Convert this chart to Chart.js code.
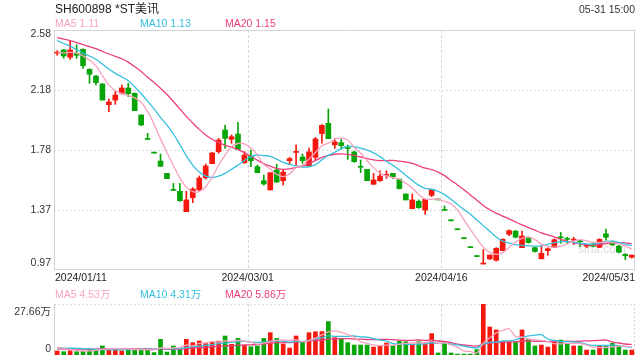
<!DOCTYPE html>
<html>
<head>
<meta charset="utf-8">
<script src="https://cdn.jsdelivr.net/npm/chart.js@4.4.1/dist/chart.umd.min.js"></script>
<style>
html, body { margin: 0; padding: 0; background: #fff; }
#wrap { position: relative; width: 640px; height: 360px; }
canvas { position: absolute; left: 0; }
#kline { top: 0; }
#vol { top: 280px; }
</style>
</head>
<body>
<div id="wrap">
  <canvas id="kline" width="640" height="300"></canvas>
  <canvas id="vol" width="640" height="80"></canvas>
</div>
<script>
const title = 'SH600898 *ST美讯';
const stamp = '05-31 15:00';
const dateLabels = ['2024/01/11', '2024/03/01', '2024/04/16', '2024/05/31'];
const priceTicks = ['0.97', '1.37', '1.78', '2.18', '2.58'];
const volTicks = ['0', '27.66万'];
const maLegend = ['MA5 1.11', 'MA10 1.13', 'MA20 1.15'];
const volLegend = ['MA5 4.53万', 'MA10 4.31万', 'MA20 5.86万'];

// daily prices, 2024/01/11 .. 2024/05/31
const opens = [2.425,2.446,2.397,2.424,2.45,2.316,2.271,2.218,2.079,2.11,
  2.155,2.191,2.155,2.01,1.846,1.754,1.701,1.618,1.504,1.498,
  1.361,1.455,1.507,1.589,1.683,1.764,1.909,1.847,1.882,1.69,
  1.735,1.663,1.569,1.507,1.641,1.569,1.703,1.759,1.728,1.668,
  1.726,1.885,1.954,1.809,1.824,1.789,1.762,1.662,1.645,1.545,
  1.569,1.605,1.618,1.58,1.48,1.381,1.431,1.372,1.471,1.44,
  1.37,1.30,1.24,1.18,1.12,1.06,1.01,1.045,1.035,1.10,
  1.21,1.231,1.12,1.189,1.12,1.045,1.10,1.122,1.19,1.18,
  1.17,1.165,1.13,1.145,1.122,1.213,1.16,1.13,1.075,1.055];
const highs = [2.442,2.45,2.508,2.48,2.453,2.32,2.276,2.22,2.119,2.171,
  2.211,2.222,2.158,2.01,1.887,1.754,1.748,1.618,1.551,1.551,
  1.498,1.522,1.601,1.681,1.759,1.853,1.943,1.876,1.961,1.764,
  1.775,1.674,1.607,1.623,1.679,1.641,1.726,1.809,1.748,1.788,
  1.86,1.945,2.05,1.851,1.849,1.809,1.768,1.708,1.645,1.618,
  1.636,1.636,1.618,1.58,1.48,1.48,1.44,1.447,1.513,1.44,
  1.40,1.30,1.24,1.18,1.12,1.06,1.107,1.072,1.12,1.18,
  1.24,1.235,1.231,1.192,1.122,1.131,1.118,1.18,1.222,1.19,
  1.19,1.175,1.14,1.148,1.18,1.245,1.165,1.135,1.08,1.07];
const lows = [2.41,2.39,2.383,2.39,2.323,2.222,2.211,2.11,2.032,2.081,
  2.15,2.133,2.039,1.938,1.846,1.754,1.663,1.583,1.504,1.43,
  1.361,1.422,1.503,1.58,1.683,1.753,1.786,1.82,1.779,1.685,
  1.663,1.623,1.54,1.507,1.558,1.54,1.677,1.674,1.686,1.668,
  1.708,1.82,1.851,1.786,1.78,1.712,1.692,1.623,1.569,1.545,
  1.565,1.585,1.583,1.514,1.44,1.381,1.384,1.343,1.462,1.44,
  1.37,1.30,1.24,1.18,1.12,1.06,1.01,1.04,1.03,1.10,
  1.20,1.185,1.12,1.15,1.09,1.045,1.07,1.12,1.149,1.15,
  1.14,1.126,1.12,1.125,1.12,1.17,1.135,1.085,1.04,1.05];
const closes = [2.43,2.406,2.446,2.41,2.34,2.283,2.227,2.11,2.097,2.144,
  2.191,2.153,2.039,1.943,1.846,1.754,1.666,1.583,1.504,1.435,
  1.44,1.513,1.587,1.668,1.755,1.842,1.853,1.864,1.779,1.741,
  1.703,1.623,1.547,1.623,1.56,1.627,1.717,1.762,1.703,1.762,
  1.849,1.94,1.851,1.829,1.804,1.785,1.697,1.659,1.569,1.574,
  1.6,1.608,1.596,1.516,1.44,1.44,1.388,1.444,1.511,1.44,
  1.37,1.30,1.24,1.18,1.12,1.06,1.012,1.07,1.115,1.176,
  1.234,1.19,1.198,1.154,1.094,1.082,1.113,1.173,1.186,1.175,
  1.172,1.16,1.138,1.13,1.175,1.19,1.138,1.09,1.065,1.07];
// volume in 万 shares
const volumes = [2.2,1.8,2.3,1.8,2.2,3.1,3.1,4.9,3.4,3.1,
  2.2,3.1,3.1,3.1,3.1,1.3,8.5,1.6,4.9,3.6,
  8.5,6.7,7.6,6.3,7.0,7.5,10.3,5.8,9.0,5.2,
  4.5,4.9,9.0,12.1,9.0,6.0,3.8,10.3,7.0,12.1,
  12.6,12.7,18.1,9.4,8.7,6.7,5.4,5.4,5.4,4.3,
  5.1,6.5,5.1,7.6,7.2,5.8,7.2,6.1,11.6,1.1,
  7.2,1.1,0.5,0.5,0.5,2.9,27.66,15.2,13.6,7.2,
  7.2,6.9,13.6,8.5,4.9,5.4,4.3,7.6,8.1,6.3,
  4.9,4.9,2.7,2.7,4.9,5.2,6.3,4.9,2.7,2.7];
// sessions before the window, only used to warm up the moving averages
const prevCloses = [2.62,2.65,2.66,2.63,2.55,2.50,2.47,2.45,2.47,2.50,
  2.60,2.64,2.62,2.60,2.46,2.44,2.43,2.44,2.43];
const prevVolumes = [3.0,2.8,2.6,3.2,2.9,2.5,2.4,2.7,2.6,3.0,
  2.8,2.6,3.4,3.0,5.5,6.0,4.8,4.5,4.0];

const UP = '#f4180e';
const DOWN = '#07a507';
const MA_COLORS = ['#f8a3be', '#36c0de', '#ec3f7c'];
const MA_DAYS = [5, 10, 20];
const FONT = "'Liberation Sans', Arial, 'Noto Sans CJK SC', sans-serif";

function movingAvg(prev, vals, n) {
  const all = prev.concat(vals);
  return vals.map((v, i) => {
    const end = prev.length + i + 1;
    let s = 0;
    for (let k = end - n; k < end; k++) s += all[k];
    return s / n;
  });
}

const colors = closes.map((c, i) => {
  if (c > opens[i]) return UP;
  if (c < opens[i]) return DOWN;
  const pc = i > 0 ? closes[i - 1] : prevCloses[prevCloses.length - 1];
  return c >= pc ? UP : DOWN;
});

const n = closes.length;
const xMin = -0.5, xMax = n - 0.5;

function maSets(prev, vals, width) {
  return MA_DAYS.map((d, k) => ({
    type: 'line',
    data: movingAvg(prev, vals, d).map((v, i) => ({ x: i, y: v })),
    borderColor: MA_COLORS[k],
    borderWidth: width,
    pointRadius: 0,
    tension: 0.35,
    order: 0
  }));
}

function text(ctx, s, x, y, color, size, align) {
  ctx.font = size + 'px ' + FONT;
  ctx.fillStyle = color;
  ctx.textAlign = align || 'left';
  ctx.textBaseline = 'middle';
  ctx.fillText(s, x, y);
}

function hLine(ctx, x0, x1, y, dash, color) {
  ctx.beginPath();
  ctx.setLineDash(dash);
  ctx.strokeStyle = color;
  ctx.moveTo(x0, y);
  ctx.lineTo(x1, y);
  ctx.stroke();
}
function vLine(ctx, x, y0, y1, dash, color) {
  ctx.beginPath();
  ctx.setLineDash(dash);
  ctx.strokeStyle = color;
  ctx.moveTo(x, y0);
  ctx.lineTo(x, y1);
  ctx.stroke();
}

function tickValues(scale, count) {
  const out = [];
  for (let k = 0; k < count; k++) out.push(scale.min + (scale.max - scale.min) * k / (count - 1));
  return out;
}

const gridPlugin = {
  id: 'grid',
  beforeDatasetsDraw(chart, args, opts) {
    const { ctx, chartArea: a, scales: { x, y } } = chart;
    ctx.save();
    ctx.lineWidth = 1;
    const yv = tickValues(y, opts.yCount);
    yv.forEach((v, k) => {
      const py = Math.round(y.getPixelForValue(v)) + (k === 0 ? -0.5 : 0.5);
      const edge = (k === 0 || k === yv.length - 1);
      const solid = opts.solidEdges && edge;
      hLine(ctx, a.left, a.right, py, solid ? [] : [2, 2], solid ? '#d4d4d4' : '#dddddd');
    });
    const xv = tickValues(x, dateLabels.length);
    xv.forEach((v, k) => {
      const px = Math.round(x.getPixelForValue(v)) + (k === xv.length - 1 ? -0.5 : 0.5);
      if (k === 0) vLine(ctx, px, a.top, a.bottom, [], '#d0d0d0');
      else if (k === xv.length - 1) vLine(ctx, px, a.top, a.bottom, opts.solidEdges ? [] : [2, 2], '#d4d4d4');
      else vLine(ctx, px, a.top, a.bottom, [3, 2], '#d8d8d8');
    });
    if (opts.mark) {
      text(ctx, 'sina.com', 602, 250, 'rgba(150,150,150,0.35)', 12, 'center');
    }
    ctx.restore();
  },
  afterDraw(chart, args, opts) {
    const { ctx, chartArea: a, scales: { x, y } } = chart;
    ctx.save();
    const yv = tickValues(y, opts.yLabels.length);
    yv.forEach((v, k) => {
      let py = y.getPixelForValue(v);
      if (k === 0) py -= opts.bottomShift;
      if (k === yv.length - 1) py += opts.topShift;
      text(ctx, opts.yLabels[k], a.left - 3, py, '#333', 10.5, 'right');
    });
    opts.legend.forEach((s, k) => {
      text(ctx, s, a.left + 1 + k * 85, opts.legendY, MA_COLORS[k], 10.5, 'left');
    });
    if (opts.axisLabels) {
      const xv = tickValues(x, dateLabels.length);
      xv.forEach((v, k) => {
        const px = x.getPixelForValue(v);
        const align = k === 0 ? 'left' : (k === xv.length - 1 ? 'right' : 'center');
        text(ctx, dateLabels[k], px + (k === 0 ? 1 : 0), a.bottom + 8, '#222', 10.5, align);
      });
      text(ctx, title, a.left + 1, 10, '#222', 12, 'left');
      text(ctx, stamp, a.right, 10, '#333', 10.5, 'right');
    }
    ctx.restore();
  }
};

const hiddenScales = (yMin, yMax) => ({
  x: { type: 'linear', min: xMin, max: xMax, offset: false, display: false },
  y: { type: 'linear', min: yMin, max: yMax, display: false }
});

new Chart(document.getElementById('kline'), {
  data: {
    datasets: [
      {
        type: 'bar',
        data: closes.map((c, i) => ({ x: i, y: [lows[i], highs[i]] })),
        backgroundColor: colors,
        barThickness: 1,
        grouped: false,
        minBarLength: 1,
        order: 2
      },
      {
        type: 'bar',
        data: closes.map((c, i) => ({ x: i, y: [Math.min(opens[i], c), Math.max(opens[i], c)] })),
        backgroundColor: colors,
        barThickness: 5,
        grouped: false,
        minBarLength: 1,
        order: 1
      },
      ...maSets(prevCloses, closes, 1.3)
    ]
  },
  options: {
    responsive: false,
    animation: false,
    events: [],
    layout: { padding: { left: 54, right: 5, top: 30, bottom: 30 } },
    scales: hiddenScales(0.97, 2.58),
    plugins: {
      legend: { display: false },
      tooltip: { enabled: false },
      grid: {
        yCount: priceTicks.length, yLabels: priceTicks, solidEdges: true, mark: true,
        topShift: 4.5, bottomShift: 7, legendY: 24, legend: maLegend, axisLabels: true
      }
    }
  },
  plugins: [gridPlugin]
});

new Chart(document.getElementById('vol'), {
  data: {
    datasets: [
      {
        type: 'bar',
        data: volumes.map((v, i) => ({ x: i, y: v })),
        backgroundColor: colors,
        barThickness: 4,
        grouped: false,
        order: 1
      },
      ...maSets(prevVolumes, volumes, 1.3)
    ]
  },
  options: {
    responsive: false,
    animation: false,
    events: [],
    layout: { padding: { left: 54, right: 5, top: 24, bottom: 5 } },
    scales: hiddenScales(0, 27.66),
    plugins: {
      legend: { display: false },
      tooltip: { enabled: false },
      grid: {
        yCount: 2, yLabels: volTicks, solidEdges: false, mark: false,
        topShift: 8, bottomShift: 6, legendY: 15, legend: volLegend, axisLabels: false
      }
    }
  },
  plugins: [gridPlugin]
});
</script>
</body>
</html>
